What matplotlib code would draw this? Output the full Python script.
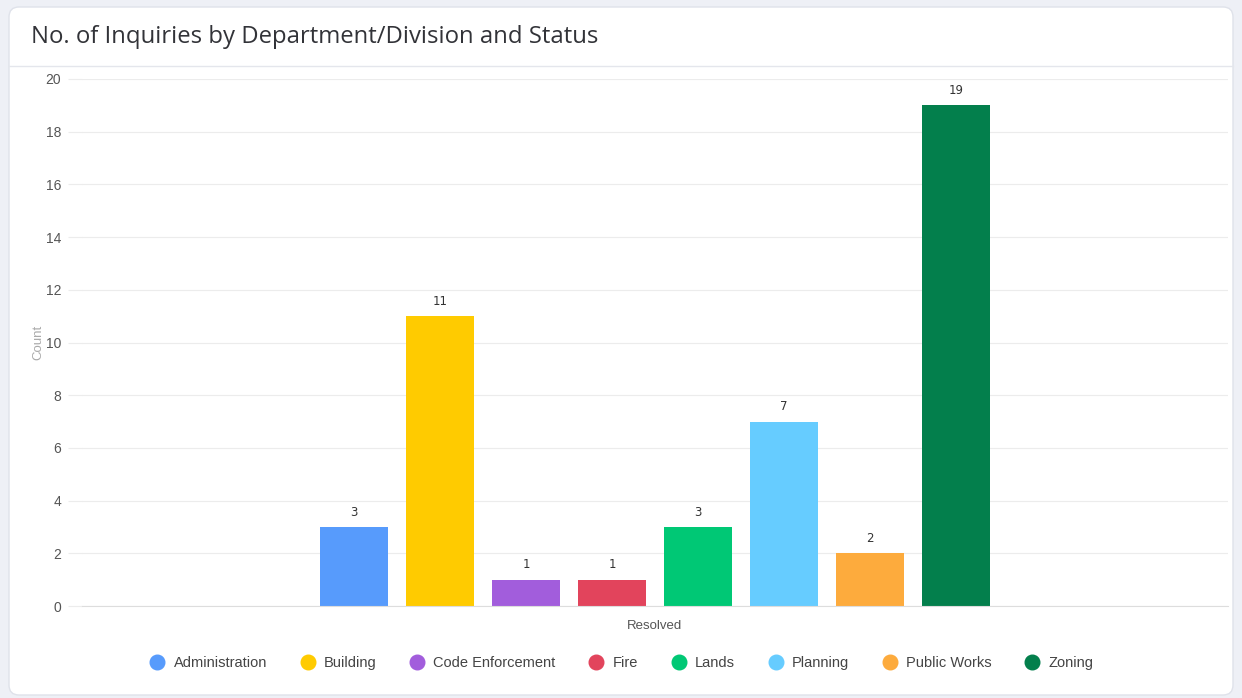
import matplotlib.pyplot as plt
import numpy as np
from matplotlib.patches import FancyBboxPatch
from matplotlib.lines import Line2D

# data
status = ["Resolved"]
departments = ["Administration", "Building", "Code Enforcement", "Fire",
               "Lands", "Planning", "Public Works", "Zoning"]
counts = [3, 11, 1, 1, 3, 7, 2, 19]
colors = ["#579bfc", "#ffcb00", "#a25ddc", "#e2445c",
          "#00c875", "#66ccff", "#fdab3d", "#037f4c"]
y_ticks = list(range(0, 21, 2))

plt.rcParams['font.family'] = ['Liberation Sans', 'DejaVu Sans']

W, H = 1242, 698
fig = plt.figure(figsize=(W / 100, H / 100), dpi=100)
fig.patch.set_facecolor("#eef0f6")

# white card with rounded corners
card = FancyBboxPatch((9, 3), W - 18, H - 10, boxstyle="round,pad=0,rounding_size=10",
                      transform=None, facecolor="white", edgecolor="#dfe2ea",
                      linewidth=1.0, zorder=-5)
fig.patches.append(card)
fig.add_artist(Line2D([9 / W, (W - 9) / W], [1 - 66 / H, 1 - 66 / H],
                      transform=fig.transFigure, color="#e4e6ec", linewidth=1.0,
                      zorder=-4))
fig.text(31 / W, 1 - 37 / H, "No. of Inquiries by Department/Division and Status",
         fontsize=17.2, color="#323338", va="center", ha="left",
         family=["Open Sans", "DejaVu Sans"])

ax = fig.add_axes([82 / W, 1 - 606 / H, (1228 - 82) / W, (606 - 79) / H], zorder=2)
ax.set_facecolor("none")

slot = 0.075
bar_w = 0.059
x = np.arange(len(status))
n = len(departments)
for i, (dep, val, col) in enumerate(zip(departments, counts, colors)):
    bars = ax.bar(x + (i - (n - 1) / 2) * slot, [val], width=bar_w, color=col,
                  label=dep, zorder=2)
    ax.bar_label(bars, padding=6, fontsize=8.5, color="#333333",
                 family=["DejaVu Sans"])

ax.set_xlim(-0.5, 0.5)
ax.set_ylim(0, 20)
ax.set_yticks(y_ticks)
ax.set_xticks(x)
ax.set_xticklabels(status)
ax.tick_params(axis="y", length=10, color="#ececec", labelsize=10,
               labelcolor="#555555", pad=5)
ax.tick_params(axis="x", length=0, labelsize=9.5, labelcolor="#555555", pad=10)
ax.grid(axis="y", color="#ececec", linewidth=0.8, zorder=0)
for s in ["top", "right", "left"]:
    ax.spines[s].set_visible(False)
ax.spines["bottom"].set_color("#dddddd")
ax.set_ylabel("Count", color="#aaaaaa", fontsize=9.5, labelpad=1)

handles = [Line2D([], [], marker="o", linestyle="none", markersize=10.5,
                  markerfacecolor=c, markeredgecolor=c) for c in colors]
fig.legend(handles, departments, loc="center", bbox_to_anchor=(0.5, 1 - 663 / H),
           ncol=n, frameon=False, fontsize=10.5, labelcolor="#444444",
           handletextpad=0.5, columnspacing=2.2, handlelength=1.2)

fig.savefig("out.png", dpi=100, facecolor=fig.get_facecolor())
